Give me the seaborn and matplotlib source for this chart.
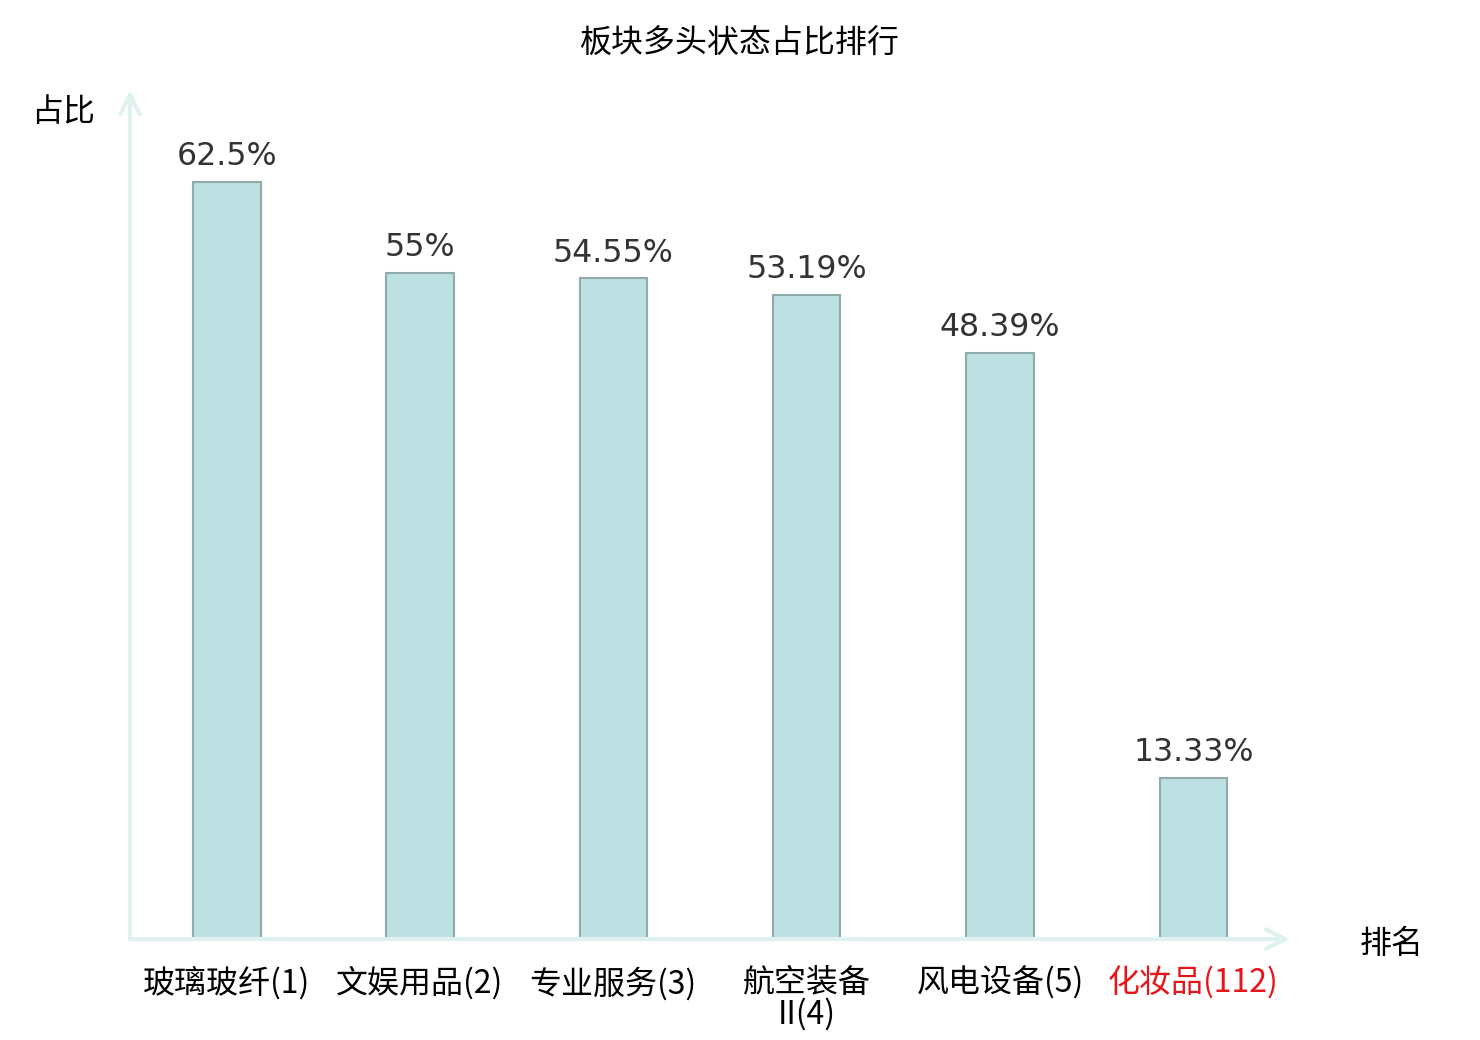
import numpy as np
import pandas as pd
import matplotlib
matplotlib.use("Agg")
import matplotlib.pyplot as plt
import seaborn as sns

# data
sectors = ["玻璃玻纤(1)", "文娱用品(2)", "专业服务(3)", "航空装备\nII(4)", "风电设备(5)", "化妆品(112)"]
ratios = [62.5, 55, 54.55, 53.19, 48.39, 13.33]
ratio_labels = ["62.5%", "55%", "54.55%", "53.19%", "48.39%", "13.33%"]

sns.set_style("white")
plt.rcParams['font.family'] = ['Noto Sans CJK SC', 'DejaVu Sans']

df = pd.DataFrame({"sector": sectors, "ratio": ratios})

fig = plt.figure(figsize=(14.8, 10.4), dpi=100)
ax = fig.add_axes([130/1480, 101/1040, 1160/1480, 849/1040])

sns.barplot(data=df, x="sector", y="ratio", color="#bde0e3", saturation=1,
            width=0.35, edgecolor="#8fabab", linewidth=1.5, ax=ax)
ax.set_xlim(-0.5, 5.5)
ax.set_ylim(0, 70.1)

# value labels
ax.bar_label(ax.containers[0], labels=ratio_labels, padding=7,
             fontsize=22.8, color="#333333", family="DejaVu Sans")

# axes as arrows
for s in ax.spines.values():
    s.set_visible(False)
axis_col = "#dff2ef"
arrow = dict(arrowstyle="->,head_length=1.4,head_width=0.7",
             color=axis_col, lw=3, shrinkA=0, shrinkB=0)
ax.annotate("", xy=(0, 1), xytext=(0, 0), xycoords="axes fraction", arrowprops=arrow)
ax.annotate("", xy=(1, 0), xytext=(0, 0), xycoords="axes fraction", arrowprops=arrow)

ax.set_yticks([])
ax.set_xlabel("")
ax.set_ylabel("")
ax.tick_params(axis="x", length=0, pad=20)
ax.set_xticks(range(len(sectors)))
ax.set_xticklabels(sectors, fontsize=23, color="black", linespacing=0.95)
ax.get_xticklabels()[-1].set_color("#e8141a")

fig.text(740/1480, 1 - 44/1040, "板块多头状态占比排行", ha="center", va="center", fontsize=23, color="black")
fig.text(63/1480, 1 - 112/1040, "占比", ha="center", va="center", fontsize=23, color="black")
fig.text(1392/1480, 1 - 944/1040, "排名", ha="center", va="center", fontsize=23, color="black")

fig.savefig("out.png", dpi=100)
